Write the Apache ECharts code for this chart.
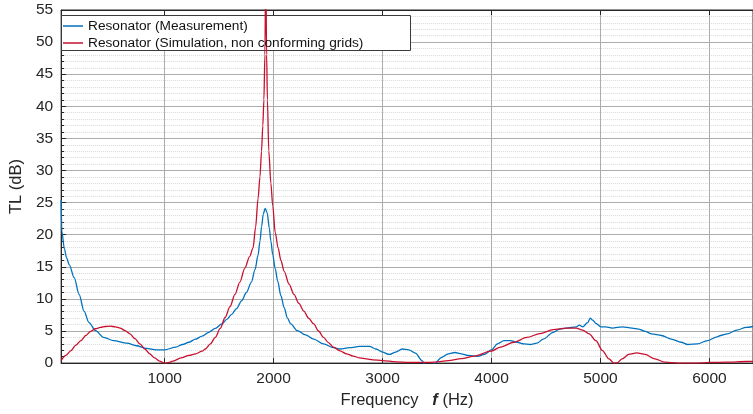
<!DOCTYPE html>
<html>
<head>
<meta charset="utf-8">
<script src="https://cdn.jsdelivr.net/npm/echarts@6/dist/echarts.min.js"></script>
<style>
html,body{margin:0;padding:0;background:#fff;}
#main{width:753px;height:414px;}
</style>
</head>
<body>
<div id="main"></div>
<script>
// 测量数据 (Hz, dB)
var measFreq = [50,56,80,100,125,170,215,260,306,366,441,531,652,742,832,923,998,1103,1164,1224,1284,1344,1405,1465,1525,1570,1615,1660,1706,1750,1796,1830,1857,1875,1890,1905,1923,1941,1961,1975,1992,2015,2037,2067,2097,2127,2157,2218,2293,2368,2458,2549,2609,2699,2790,2880,2940,3000,3061,3121,3181,3241,3302,3362,3392,3440,3482,3542,3603,3663,3723,3783,3874,3934,4000,4054,4115,4175,4235,4296,4355,4416,4476,4566,4626,4687,4777,4807,4837,4882,4906,4928,4958,5003,5048,5108,5199,5289,5349,5410,5470,5560,5650,5741,5801,5891,5981,6071,6102,6162,6252,6337,6400];
var measTL = [25.4,20.5,17.8,16.4,15.3,13.3,10.7,8.1,6.3,5.05,4.0,3.5,3.1,2.7,2.3,2.05,2.05,2.5,2.9,3.25,3.75,4.2,4.8,5.4,6.1,6.8,7.6,8.5,9.7,11.0,12.6,14.6,16.8,19.0,21.3,23.2,24.1,23.4,21.0,19.0,16.9,14.7,12.8,10.5,8.65,7.0,6.1,5.05,4.4,3.75,3.0,2.4,2.2,2.4,2.6,2.6,2.2,1.7,1.35,1.7,2.2,2.05,1.55,0.4,-0.3,-0.6,0,0.9,1.45,1.65,1.45,1.2,1.05,1.35,2.05,3.0,3.5,3.5,3.25,3.0,2.9,3.1,3.75,4.8,5.3,5.45,5.65,5.9,5.65,6.3,7.0,6.7,6.2,5.65,5.65,5.45,5.65,5.45,5.3,4.95,4.55,4.3,3.75,3.25,2.9,3.0,3.5,4.1,4.3,4.55,5.15,5.55,5.7];
// 仿真数据
var simFreq = [50,95,140,185,231,276,321,366,411,456,502,547,592,637,682,727,773,818,863,908,953,998,1040,1073,1150,1224,1284,1344,1374,1420,1465,1510,1555,1600,1645,1690,1736,1780,1811,1835,1857,1875,1889,1901,1911,1920,1928,1936,1943,1956,1975,1992,2015,2042,2067,2097,2142,2187,2232,2277,2322,2368,2413,2458,2503,2549,2609,2669,2730,2790,2850,2910,3000,3121,3241,3362,3482,3603,3723,3844,3994,4084,4205,4325,4445,4566,4687,4777,4837,4897,4958,5018,5078,5123,5153,5199,5259,5334,5410,5500,5590,5710,5861,6012,6162,6337,6400];
var simTL = [0.4,1.2,1.95,2.8,3.5,4.3,4.95,5.35,5.55,5.7,5.75,5.65,5.45,5.05,4.55,3.8,3.0,2.2,1.45,0.8,0.3,0.0,0.1,0.3,0.8,1.2,1.45,1.85,2.2,3.0,4.0,5.4,7.1,8.8,10.7,12.6,14.8,16.6,17.9,21.2,25.6,29.0,33,37,41,48,62,48,41,33,28,24.5,20.3,17.9,16.0,14.3,12.3,10.7,9.3,8.1,7.0,6.1,5.0,4.0,3.2,2.5,1.9,1.45,1.1,0.8,0.65,0.5,0.4,0.2,0.1,0.1,0.15,0.4,0.7,1.1,1.85,2.5,3.25,4.0,4.6,5.2,5.45,5.45,5.15,4.55,3.5,1.95,0.65,0.0,0.05,0.65,1.35,1.6,1.35,0.65,0.15,0.0,0.0,0.1,0.15,0.25,0.27];
var freqTicks = [1000, 2000, 3000, 4000, 5000, 6000];
var seriesNames = ['Resonator (Measurement)', 'Resonator (Simulation, non conforming grids)'];

function pairs(xs, ys){
	var out = [];
	for (var i = 0; i < xs.length; i++) {
		out.push([xs[i], ys[i]]);
	}
	return out;
}

var myChart = echarts.init(document.getElementById('main'));
var axisColor = '#262626';
var font = 'Liberation Sans, Arial, sans-serif';

var option = {
	animation: false,
	grid: {
		left: 56.5,
		top: 10,
		width: 703,
		height: 356,
		show: true,
		borderColor: axisColor,
		borderWidth: 1
	},
	// 图例背景框
	graphic: [{
		type: 'rect',
		z: 3,
		shape: {x: 61.5, y: 15.5, width: 349, height: 35},
		style: {fill: '#fff', stroke: '#3a3a3a', lineWidth: 1}
	}],
	legend: {
		left: 63,
		top: 18,
		padding: 0,
		orient: 'vertical',
		icon: 'rect',
		itemWidth: 20,
		itemHeight: 1.5,
		itemGap: 1,
		z: 5,
		data: seriesNames,
		textStyle: {fontFamily: font, fontSize: 13.7, color: '#111', lineHeight: 16}
	},
	xAxis: [{
		type: 'value',
		min: 50,
		max: 6400,
		name: '{a|Frequency   }{b|f}{a| (Hz)}',
		nameLocation: 'middle',
		nameGap: 28,
		nameTextStyle: {
			rich: {
				a: {fontFamily: font, fontSize: 16.5, color: axisColor},
				b: {fontFamily: font, fontSize: 16.5, color: axisColor, fontStyle: 'italic', fontWeight: 'bold'}
			}
		},
		axisLine: {lineStyle: {color: axisColor}},
		axisTick: {inside: true, length: 5, customValues: freqTicks, lineStyle: {color: axisColor}},
		axisLabel: {
			fontFamily: font, fontSize: 15.5, color: axisColor, margin: 8, customValues: freqTicks,
			formatter: function(v){ return String(v); }
		},
		splitLine: {show: true, lineStyle: {color: '#acacac', width: 1}}
	}, {
		type: 'value',
		position: 'top',
		min: 50,
		max: 6400,
		axisLine: {lineStyle: {color: axisColor}},
		axisTick: {inside: true, length: 5, customValues: freqTicks, lineStyle: {color: axisColor}},
		axisLabel: {show: false},
		splitLine: {show: false}
	}],
	yAxis: {
		type: 'value',
		min: 0,
		max: 55,
		interval: 5,
		name: 'TL (dB)',
		nameLocation: 'middle',
		nameGap: 24,
		nameTextStyle: {fontFamily: font, fontSize: 16.5, color: axisColor},
		axisLine: {show: true, lineStyle: {color: axisColor}},
		axisTick: {show: true, inside: true, length: 5, lineStyle: {color: axisColor}},
		minorTick: {show: true, splitNumber: 5, length: 3, lineStyle: {color: axisColor}},
		axisLabel: {fontFamily: font, fontSize: 15.5, color: axisColor, margin: 8},
		splitLine: {show: true, lineStyle: {color: '#acacac', width: 1}},
		minorSplitLine: {show: true, lineStyle: {color: '#dadada', type: 'dotted', width: 1}}
	},
	series: [{
		name: seriesNames[0],
		type: 'line',
		symbol: 'none',
		smooth: 0.3,
		smoothMonotone: 'x',
		clip: true,
		lineStyle: {color: '#0072BD', width: 1.3},
		itemStyle: {color: '#0072BD'},
		data: pairs(measFreq, measTL)
	}, {
		name: seriesNames[1],
		type: 'line',
		symbol: 'none',
		smooth: 0.3,
		smoothMonotone: 'x',
		clip: true,
		lineStyle: {color: '#C8102E', width: 1.3},
		itemStyle: {color: '#C8102E'},
		data: pairs(simFreq, simTL)
	}]
};

myChart.setOption(option);
</script>
</body>
</html>
